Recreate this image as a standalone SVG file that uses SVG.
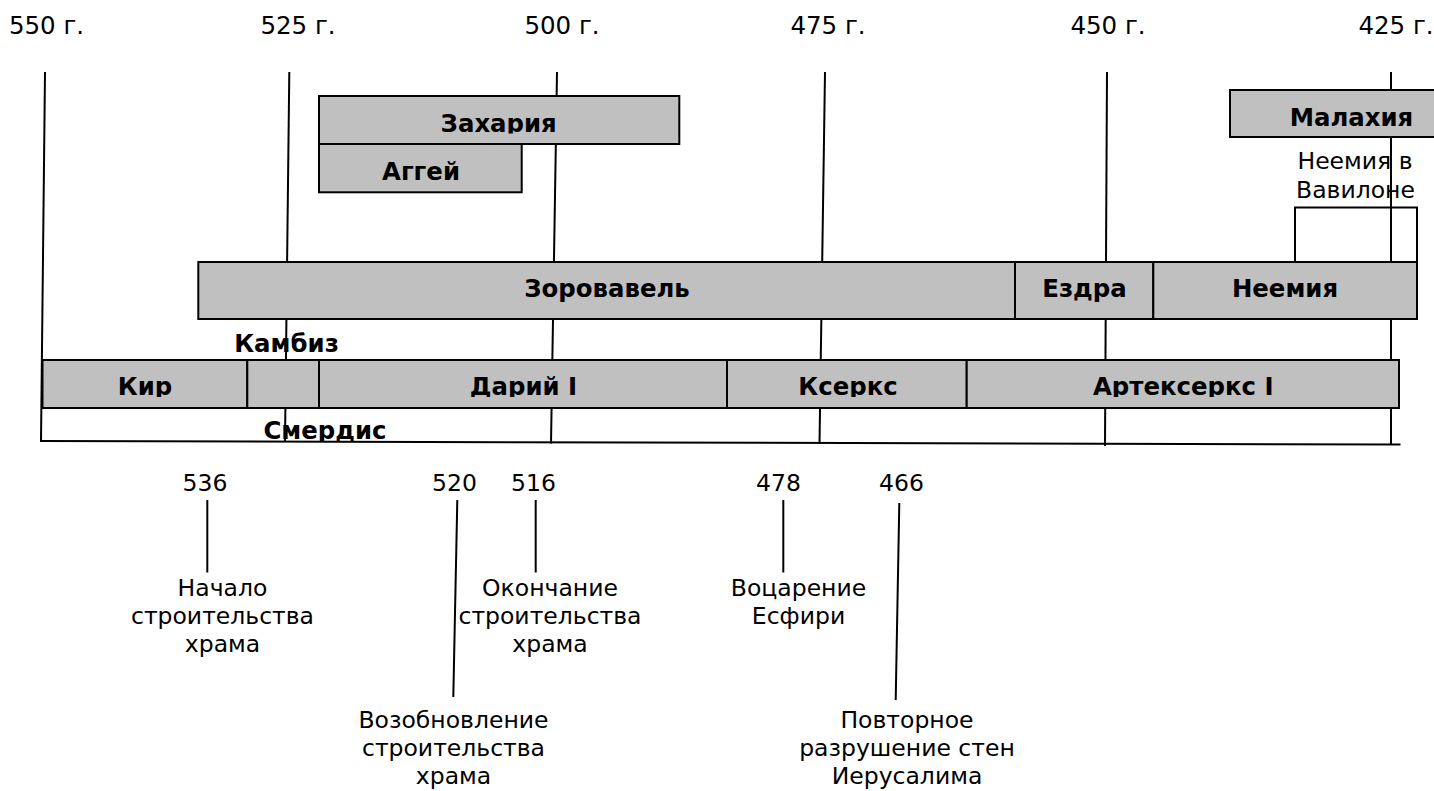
<svg xmlns="http://www.w3.org/2000/svg" width="1434" height="791" viewBox="0 0 1434 791">
<style>
.t{font-family:"DejaVu Sans",Verdana,sans-serif;font-size:23.5px;fill:#000;text-anchor:middle}
.y{font-family:"DejaVu Sans",Verdana,sans-serif;font-size:24.5px;fill:#000;text-anchor:middle}
.b{font-family:"DejaVu Sans",Verdana,sans-serif;font-size:24.4px;font-weight:bold;fill:#000;text-anchor:middle}
.box{fill:#c0c0c0;stroke:#000;stroke-width:2}
.ln{stroke:#000;stroke-width:2;fill:none}
</style>
<defs>
<clipPath id="clipKings" clipPathUnits="userSpaceOnUse"><rect x="0" y="0" width="1434" height="397"/></clipPath>
<clipPath id="clipZach" clipPathUnits="userSpaceOnUse"><rect x="0" y="0" width="1434" height="133.5"/></clipPath>
<clipPath id="clipSmer" clipPathUnits="userSpaceOnUse"><rect x="0" y="0" width="1434" height="441.5"/></clipPath>
</defs>
<rect width="1434" height="791" fill="#fff"/>

<g id="year-labels">
<text class="y" x="46.5" y="34">550 г.</text>
<text class="y" x="298" y="34">525 г.</text>
<text class="y" x="562" y="34">500 г.</text>
<text class="y" x="828" y="34">475 г.</text>
<text class="y" x="1108" y="34">450 г.</text>
<text class="y" x="1396" y="34">425 г.</text>
</g>

<g id="label-kambiz"><text class="b" x="286.5" y="352">Камбиз</text></g>
<g id="label-smerdis"><text class="b" x="325" y="439" clip-path="url(#clipSmer)">Смердис</text></g>
<g id="label-nehemiah-babylon">
<text class="t" x="1355" y="169">Неемия в</text>
<text class="t" x="1355.5" y="198">Вавилоне</text>
</g>

<g id="event-536">
<text class="t" x="205" y="491">536</text>
<text class="t" x="222.5" y="596">Начало</text>
<text class="t" x="222.5" y="624">строительства</text>
<text class="t" x="222.5" y="652">храма</text>
</g>
<g id="event-520">
<text class="t" x="454.5" y="491">520</text>
<text class="t" x="453.5" y="728">Возобновление</text>
<text class="t" x="453.5" y="756">строительства</text>
<text class="t" x="453.5" y="784">храма</text>
</g>
<g id="event-516">
<text class="t" x="533.5" y="491">516</text>
<text class="t" x="550" y="596">Окончание</text>
<text class="t" x="550" y="624">строительства</text>
<text class="t" x="550" y="652">храма</text>
</g>
<g id="event-478">
<text class="t" x="778.5" y="491">478</text>
<text class="t" x="798.5" y="596">Воцарение</text>
<text class="t" x="798.5" y="624">Есфири</text>
</g>
<g id="event-466">
<text class="t" x="901.5" y="491">466</text>
<text class="t" x="907" y="728">Повторное</text>
<text class="t" x="907" y="756">разрушение стен</text>
<text class="t" x="907" y="784">Иерусалима</text>
</g>

<g id="connectors">
<line class="ln" x1="45" y1="72" x2="41" y2="441"/>
<line class="ln" x1="289.3" y1="72" x2="285" y2="442"/>
<line class="ln" x1="557" y1="72" x2="551" y2="443.5"/>
<line class="ln" x1="825" y1="72" x2="819.5" y2="444"/>
<line class="ln" x1="1107" y1="72" x2="1105" y2="446"/>
<line class="ln" x1="1391" y1="72" x2="1391" y2="444"/>
<line class="ln" x1="40" y1="441" x2="1400.5" y2="444.5"/>
<polyline class="ln" points="1295,262 1295,207.5 1417,207.5 1417,262"/>
<line class="ln" x1="207.3" y1="500" x2="207.3" y2="572.5"/>
<line class="ln" x1="457.3" y1="500" x2="453.3" y2="697"/>
<line class="ln" x1="535.7" y1="500" x2="535.7" y2="572.5"/>
<line class="ln" x1="783.3" y1="500" x2="783.3" y2="572.5"/>
<line class="ln" x1="899.3" y1="503" x2="895.7" y2="700"/>
</g>

<g id="node-zachariah">
<rect class="box" x="319" y="96" width="360.3" height="48"/>
<text class="b" x="498.7" y="131.7" clip-path="url(#clipZach)">Захария</text>
</g>
<g id="node-haggai">
<rect class="box" x="319" y="144" width="202.7" height="48.3"/>
<text class="b" x="421" y="180">Аггей</text>
</g>
<g id="node-malachi">
<rect class="box" x="1230" y="90" width="215" height="47"/>
<text class="b" x="1351.5" y="126">Малахия</text>
</g>
<g id="node-zerubbabel">
<rect class="box" x="198.3" y="262" width="816.7" height="57"/>
<text class="b" x="607" y="297">Зоровавель</text>
</g>
<g id="node-ezra">
<rect class="box" x="1015" y="262" width="138.3" height="57"/>
<text class="b" x="1084.5" y="297">Ездра</text>
</g>
<g id="node-nehemiah">
<rect class="box" x="1153.3" y="262" width="263.7" height="57"/>
<text class="b" x="1285" y="297">Неемия</text>
</g>
<g id="node-cyrus">
<rect class="box" x="42.5" y="360" width="204.8" height="48"/>
<text class="b" x="145" y="395" clip-path="url(#clipKings)">Кир</text>
</g>
<g id="node-cambyses-smerdis">
<rect class="box" x="247.3" y="360" width="71.7" height="48"/>
</g>
<g id="node-darius">
<rect class="box" x="319" y="360" width="408" height="48"/>
<text class="b" x="523.5" y="395" clip-path="url(#clipKings)">Дарий I</text>
</g>
<g id="node-xerxes">
<rect class="box" x="727" y="360" width="239.7" height="48"/>
<text class="b" x="848" y="395" clip-path="url(#clipKings)">Ксеркс</text>
</g>
<g id="node-artaxerxes">
<rect class="box" x="966.7" y="360" width="432.3" height="48"/>
<text class="b" x="1183.3" y="395" clip-path="url(#clipKings)">Артексеркс I</text>
</g>
</svg>
